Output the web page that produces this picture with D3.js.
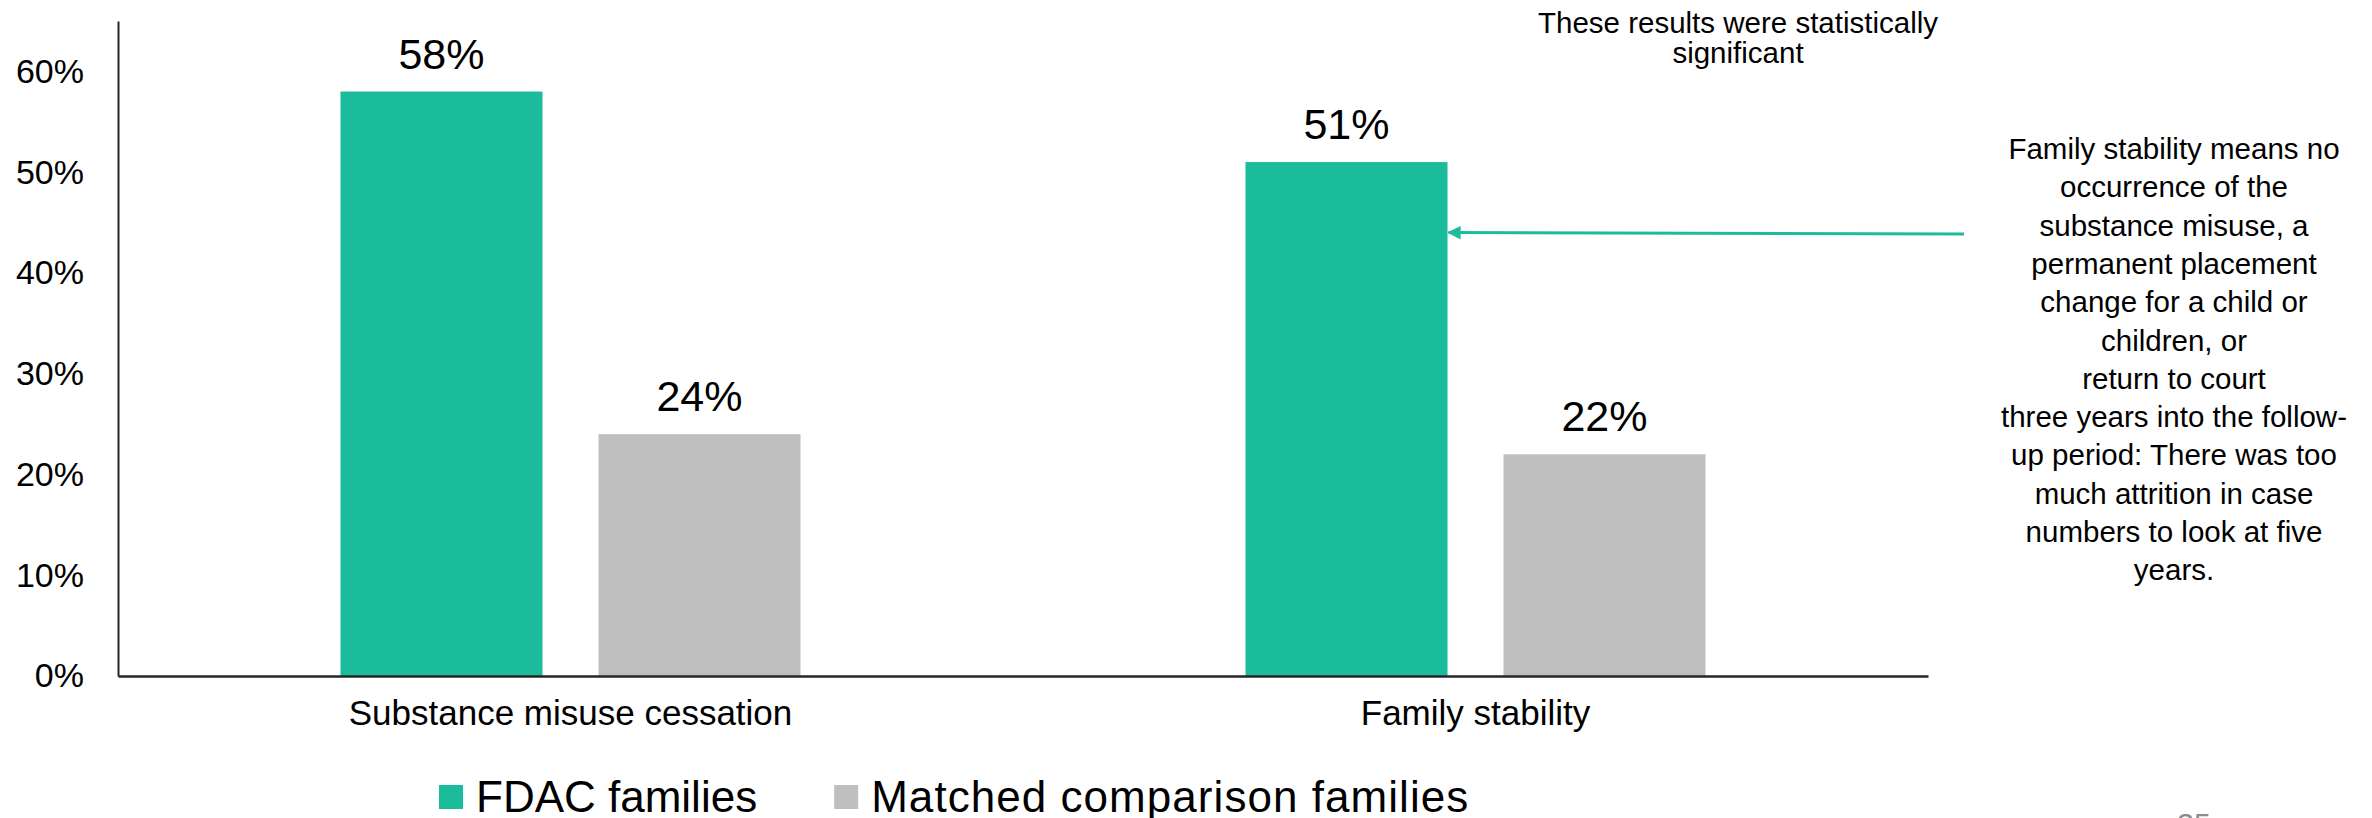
<!DOCTYPE html>
<html>
<head>
<meta charset="utf-8">
<script src="https://cdn.jsdelivr.net/npm/d3@7"></script>
<style>
  html, body { margin: 0; padding: 0; background: #ffffff; }
  svg { display: block; font-family: "Liberation Sans", Arial, sans-serif; }
</style>
</head>
<body>
<svg id="chart" width="2372" height="818"></svg>
<script>
// Outcome categories and the two compared groups
const categories = ["Substance misuse cessation", "Family stability"];
const seriesNames = ["FDAC families", "Matched comparison families"];
const fdacValues = [0.58, 0.51];
const comparisonValues = [0.24, 0.22];
const yTickValues = [0, 0.1, 0.2, 0.3, 0.4, 0.5, 0.6];

const significanceNote = ["These results were statistically", "significant"];
const definitionNote = [
  "Family stability means no",
  "occurrence of the",
  "substance misuse, a",
  "permanent placement",
  "change for a child or",
  "children, or",
  "return to court",
  "three years into the follow-",
  "up period: There was too",
  "much attrition in case",
  "numbers to look at five",
  "years."
];
const pageNumber = "35";

const colors = { "FDAC families": "#1BBC9B", "Matched comparison families": "#BFBFBF" };
// letter spacing per legend label so the wider label keeps its proportions
const legendSpacing = { "FDAC families": 0, "Matched comparison families": 1.05 };
const axisColor = "#262626";

const rows = categories.map((c, i) => ({
  category: c,
  values: [
    { series: seriesNames[0], value: fdacValues[i] },
    { series: seriesNames[1], value: comparisonValues[i] }
  ]
}));

const svg = d3.select("#chart");

const plot = { left: 118, right: 1928, top: 21, bottom: 676 };

const x0 = d3.scaleBand()
  .domain(categories)
  .range([plot.left, plot.right])
  .paddingInner(0.4917)
  .paddingOuter(0.4917 / 2);

const x1 = d3.scaleBand()
  .domain(seriesNames)
  .range([0, x0.bandwidth()])
  .paddingInner(0.217);

const y = d3.scaleLinear()
  .domain([0, 0.65])
  .range([plot.bottom, plot.top]);

// Y axis: line plus percentage labels, no tick marks
const yAxis = svg.append("g")
  .attr("transform", `translate(${plot.left},0)`)
  .call(d3.axisLeft(y).tickValues(yTickValues).tickSize(0).tickPadding(34).tickFormat(d3.format(".0%")));
yAxis.select(".domain").attr("stroke", axisColor).attr("stroke-width", 2);
yAxis.selectAll("text")
  .attr("font-size", 34)
  .attr("fill", "#000")
  .attr("font-family", "Liberation Sans, Arial, sans-serif");

// Bars
const groups = svg.append("g").selectAll("g")
  .data(rows)
  .join("g")
  .attr("transform", d => `translate(${x0(d.category)},0)`);

groups.selectAll("rect")
  .data(d => d.values)
  .join("rect")
  .attr("x", d => x1(d.series))
  .attr("y", d => y(d.value))
  .attr("width", x1.bandwidth())
  .attr("height", d => y(0) - y(d.value))
  .attr("fill", d => colors[d.series]);

// Value labels above bars
groups.selectAll("text.value")
  .data(d => d.values)
  .join("text")
  .attr("class", "value")
  .attr("x", d => x1(d.series) + x1.bandwidth() / 2)
  .attr("y", d => y(d.value) - 23)
  .attr("text-anchor", "middle")
  .attr("font-size", 43)
  .attr("fill", "#000")
  .text(d => d3.format(".0%")(d.value));

// X axis baseline and category labels
const xAxis = svg.append("g")
  .attr("transform", `translate(0,${plot.bottom})`)
  .call(d3.axisBottom(x0).tickSize(0).tickPadding(24).tickSizeOuter(0));
xAxis.select(".domain").attr("stroke", axisColor).attr("stroke-width", 2.5);
xAxis.selectAll("text")
  .attr("font-size", 35)
  .attr("fill", "#000")
  .attr("font-family", "Liberation Sans, Arial, sans-serif");

// Legend
const legend = svg.append("g").attr("transform", "translate(439,785)");
let lx = 0;
seriesNames.forEach(name => {
  const item = legend.append("g").attr("transform", `translate(${lx},0)`);
  item.append("rect").attr("width", 24).attr("height", 24).attr("fill", colors[name]);
  const t = item.append("text")
    .attr("x", 37)
    .attr("y", 27)
    .attr("font-size", 44)
    .attr("letter-spacing", legendSpacing[name])
    .attr("fill", "#000")
    .text(name);
  lx += 37 + t.node().getComputedTextLength() + 77;
});

// Significance note
svg.append("text")
  .attr("text-anchor", "middle")
  .attr("font-size", 29.5)
  .attr("fill", "#000")
  .selectAll("tspan")
  .data(significanceNote)
  .join("tspan")
  .attr("x", 1738)
  .attr("y", (d, i) => 33 + i * 30)
  .text(d => d);

// Definition note at right
svg.append("text")
  .attr("text-anchor", "middle")
  .attr("font-size", 29.5)
  .attr("fill", "#000")
  .selectAll("tspan")
  .data(definitionNote)
  .join("tspan")
  .attr("x", 2174)
  .attr("y", (d, i) => 159 + i * 38.3)
  .text(d => d);

// Arrow from the definition note to the FDAC bar for family stability
const defs = svg.append("defs");
defs.append("marker")
  .attr("id", "arrowhead")
  .attr("viewBox", "0 0 10 10")
  .attr("refX", 9)
  .attr("refY", 5)
  .attr("markerWidth", 4.5)
  .attr("markerHeight", 5)
  .attr("markerUnits", "strokeWidth")
  .attr("orient", "auto")
  .append("path")
  .attr("d", "M0,0 L10,5 L0,10 Z")
  .attr("fill", colors["FDAC families"]);

const tipX = x0("Family stability") + x1("FDAC families") + x1.bandwidth() + 1;
svg.append("line")
  .attr("x1", 1964)
  .attr("y1", 234)
  .attr("x2", tipX)
  .attr("y2", y(0.44))
  .attr("stroke", colors["FDAC families"])
  .attr("stroke-width", 3)
  .attr("marker-end", "url(#arrowhead)");

// Slide page number, cut off at the bottom edge
svg.append("text")
  .attr("x", 2194)
  .attr("y", 834)
  .attr("text-anchor", "middle")
  .attr("font-size", 30)
  .attr("fill", "#8c8c8c")
  .text(pageNumber);
</script>
</body>
</html>
